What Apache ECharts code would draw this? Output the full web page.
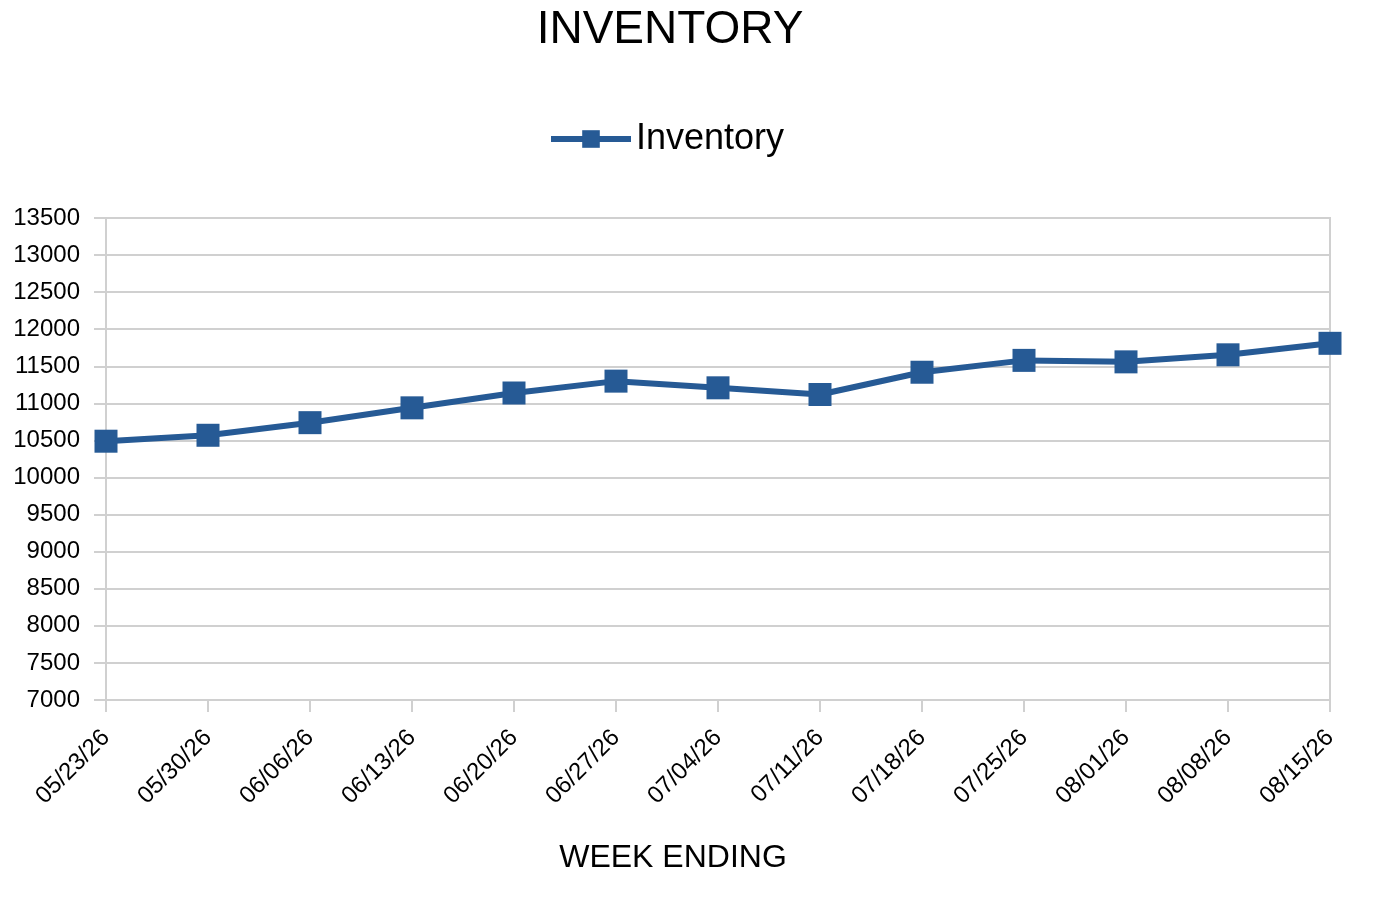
<!DOCTYPE html>
<html>
<head>
<meta charset="utf-8">
<title>Inventory</title>
<script src="https://cdn.jsdelivr.net/npm/echarts@6/dist/echarts.min.js"></script>
<style>
  html, body { margin: 0; padding: 0; background: #fff; }
  #chart { width: 1380px; height: 900px; }
</style>
</head>
<body>
<div id="chart"></div>
<script>
// week-ending dates and inventory counts
const weeks = ['05/23/26', '05/30/26', '06/06/26', '06/13/26', '06/20/26', '06/27/26',
  '07/04/26', '07/11/26', '07/18/26', '07/25/26', '08/01/26', '08/08/26', '08/15/26'];
const inventory = [10490, 10570, 10740, 10940, 11140, 11300,
  11210, 11120, 11420, 11580, 11560, 11655, 11810];

const yMin = 7000;
const yMax = 13500;
const yStep = 500;

const font = '"Liberation Sans", Arial, sans-serif';
const blue = '#265a95';
const gridGray = '#d0d0d0';

const chart = echarts.init(document.getElementById('chart'));

chart.setOption({
  animation: false,
  textStyle: { fontFamily: font, color: '#000' },
  title: {
    text: 'INVENTORY',
    left: 665,
    textAlign: 'center',
    top: 2,
    textStyle: { fontFamily: font, fontSize: 46, fontWeight: 'normal', color: '#000' }
  },
  legend: {
    data: ['Inventory'],
    left: 543,
    top: 116,
    itemWidth: 80,
    itemHeight: 22,
    itemGap: 10,
    lineStyle: { width: 6 },
    textStyle: { fontFamily: font, fontSize: 36, color: '#000' }
  },
  grid: {
    left: 106,
    right: 50,
    top: 218,
    bottom: 200,
    show: true,
    borderColor: gridGray,
    borderWidth: 2
  },
  xAxis: {
    type: 'category',
    data: weeks,
    boundaryGap: false,
    name: 'WEEK ENDING',
    nameLocation: 'middle',
    nameGap: 142,
    nameTextStyle: { fontFamily: font, fontSize: 32, color: '#000', padding: [0, 90, 0, 0] },
    axisLine: { lineStyle: { color: gridGray, width: 2 } },
    axisTick: { show: true, length: 12, lineStyle: { color: gridGray, width: 2 } },
    axisLabel: { rotate: 45, fontSize: 24, color: '#000', margin: 34, fontFamily: font },
    splitLine: { show: false }
  },
  yAxis: {
    type: 'value',
    min: yMin,
    max: yMax,
    interval: yStep,
    axisLine: { show: true, lineStyle: { color: gridGray, width: 2 } },
    axisTick: { show: true, length: 12, lineStyle: { color: gridGray, width: 2 } },
    axisLabel: { fontSize: 24, color: '#000', margin: 26, fontFamily: font, formatter: v => String(v) },
    splitLine: { show: true, lineStyle: { color: gridGray, width: 2 } }
  },
  series: [{
    name: 'Inventory',
    type: 'line',
    data: inventory,
    symbol: 'rect',
    symbolSize: 23,
    lineStyle: { color: blue, width: 6 },
    itemStyle: { color: blue }
  }]
});
</script>
</body>
</html>
